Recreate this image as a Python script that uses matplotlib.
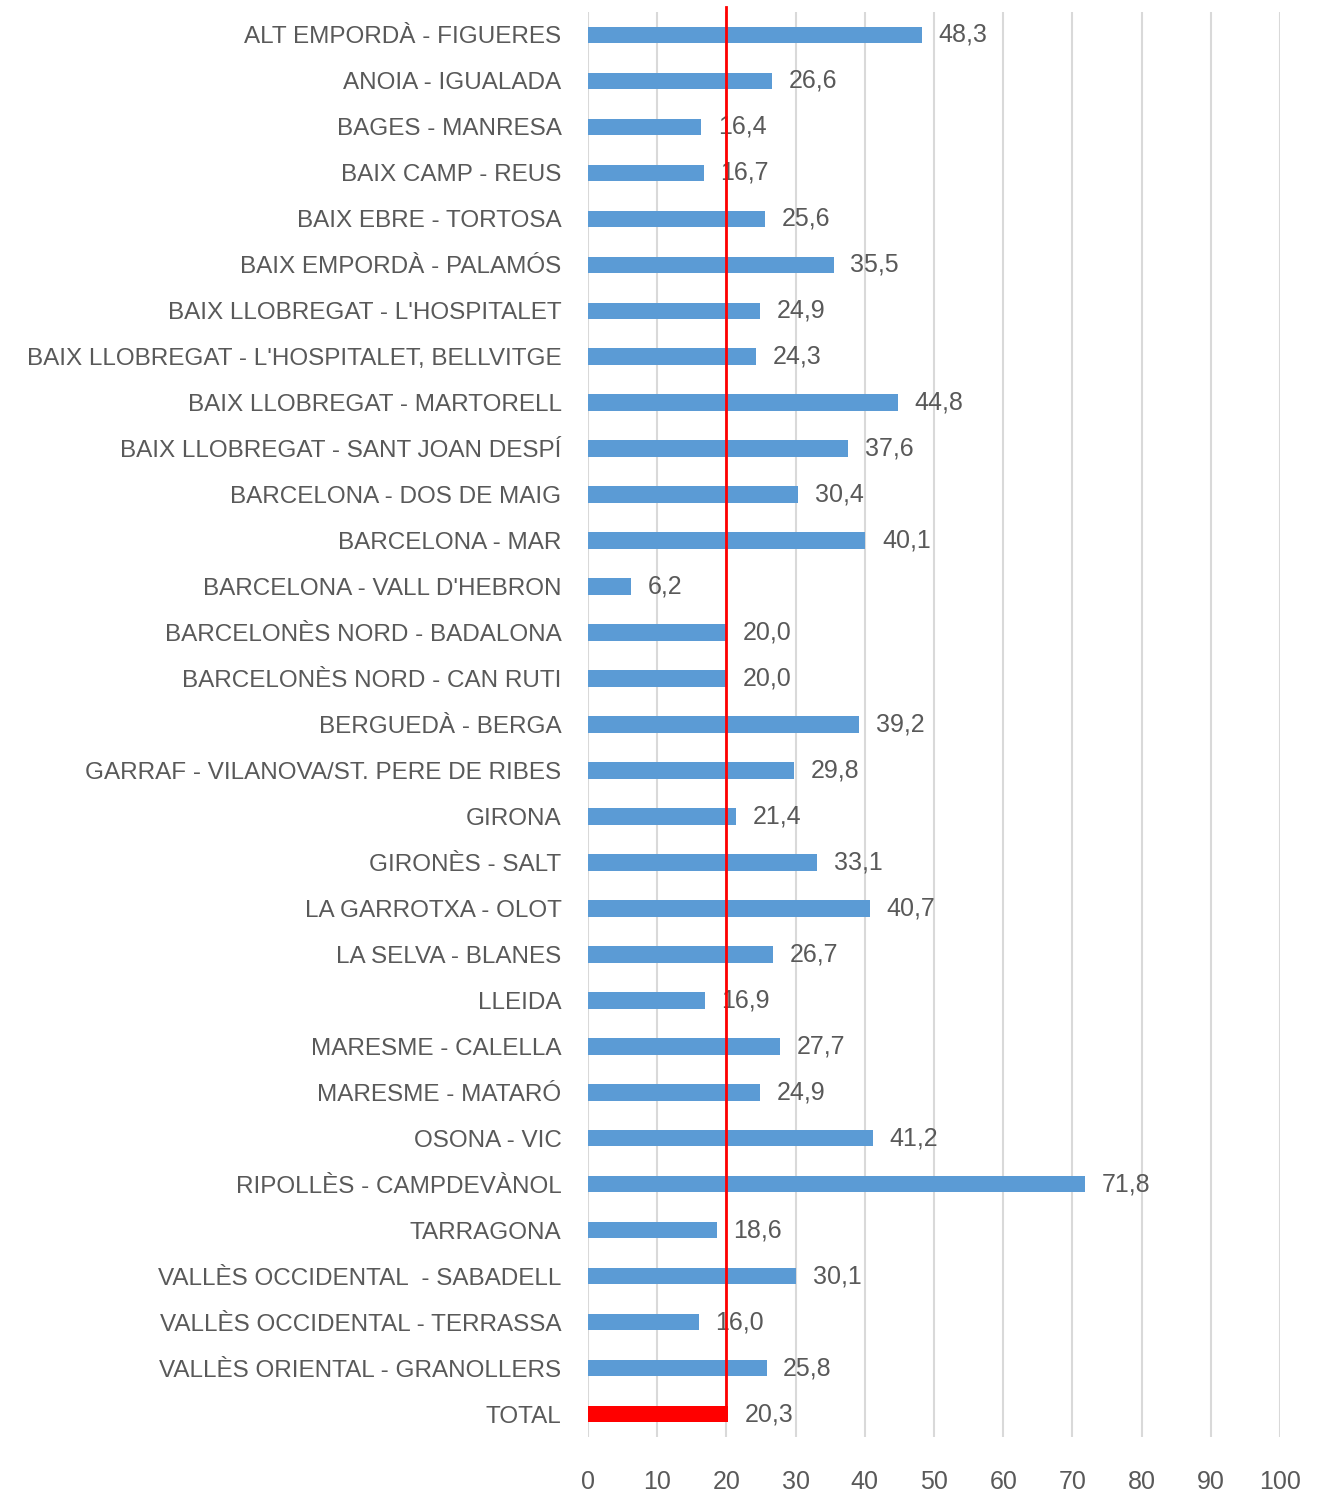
import matplotlib.pyplot as plt

categories = [
    "ALT EMPORDÀ - FIGUERES", "ANOIA - IGUALADA", "BAGES - MANRESA",
    "BAIX CAMP - REUS", "BAIX EBRE - TORTOSA", "BAIX EMPORDÀ - PALAMÓS",
    "BAIX LLOBREGAT - L'HOSPITALET", "BAIX LLOBREGAT - L'HOSPITALET, BELLVITGE",
    "BAIX LLOBREGAT - MARTORELL", "BAIX LLOBREGAT - SANT JOAN DESPÍ",
    "BARCELONA - DOS DE MAIG", "BARCELONA - MAR", "BARCELONA - VALL D'HEBRON",
    "BARCELONÈS NORD - BADALONA", "BARCELONÈS NORD - CAN RUTI",
    "BERGUEDÀ - BERGA", "GARRAF - VILANOVA/ST. PERE DE RIBES", "GIRONA",
    "GIRONÈS - SALT", "LA GARROTXA - OLOT", "LA SELVA - BLANES", "LLEIDA",
    "MARESME - CALELLA", "MARESME - MATARÓ", "OSONA - VIC",
    "RIPOLLÈS - CAMPDEVÀNOL", "TARRAGONA", "VALLÈS OCCIDENTAL  - SABADELL",
    "VALLÈS OCCIDENTAL - TERRASSA", "VALLÈS ORIENTAL - GRANOLLERS", "TOTAL",
]
values = [48.3, 26.6, 16.4, 16.7, 25.6, 35.5, 24.9, 24.3, 44.8, 37.6,
          30.4, 40.1, 6.2, 20.0, 20.0, 39.2, 29.8, 21.4, 33.1, 40.7,
          26.7, 16.9, 27.7, 24.9, 41.2, 71.8, 18.6, 30.1, 16.0, 25.8, 20.3]
ref_line = 20
x_ticks = list(range(0, 101, 10))

fig = plt.figure(figsize=(13.28, 14.98), dpi=100)
ax = fig.add_axes([588 / 1328, 1 - 1437 / 1498, 692 / 1328, (1437 - 12) / 1498])

n = len(categories)
ypos = list(range(n))
colors = ['#5B9BD5'] * (n - 1) + ['#FF0000']
ax.barh(ypos, values, height=0.36, color=colors, zorder=2)

for y, v in zip(ypos, values):
    ax.text(v + 2.4, y, ('%.1f' % v).replace('.', ','), va='center', ha='left',
            fontsize=18, color='#595959', family='Liberation Sans')

# reference line, reaching a bit above the plot area
ax.plot([ref_line, ref_line], [n - 1, -0.6], color='#FF0000', lw=2,
        zorder=3, clip_on=False)

ax.set_xlim(0, 100)
ax.set_ylim(n - 1 + 0.5, -0.5)
ax.set_xticks(x_ticks)
ax.set_yticks(ypos)
ax.set_yticklabels(categories)
ax.grid(axis='x', color='#D9D9D9', lw=1.5, zorder=0)
for s in ax.spines.values():
    s.set_visible(False)
ax.tick_params(length=0, colors='#595959')
ax.tick_params(axis='x', pad=24, labelsize=18)
ax.tick_params(axis='y', pad=19, labelsize=17.5)
for lab in ax.get_xticklabels() + ax.get_yticklabels():
    lab.set_family('Liberation Sans')

plt.savefig('out.png', dpi=100)
